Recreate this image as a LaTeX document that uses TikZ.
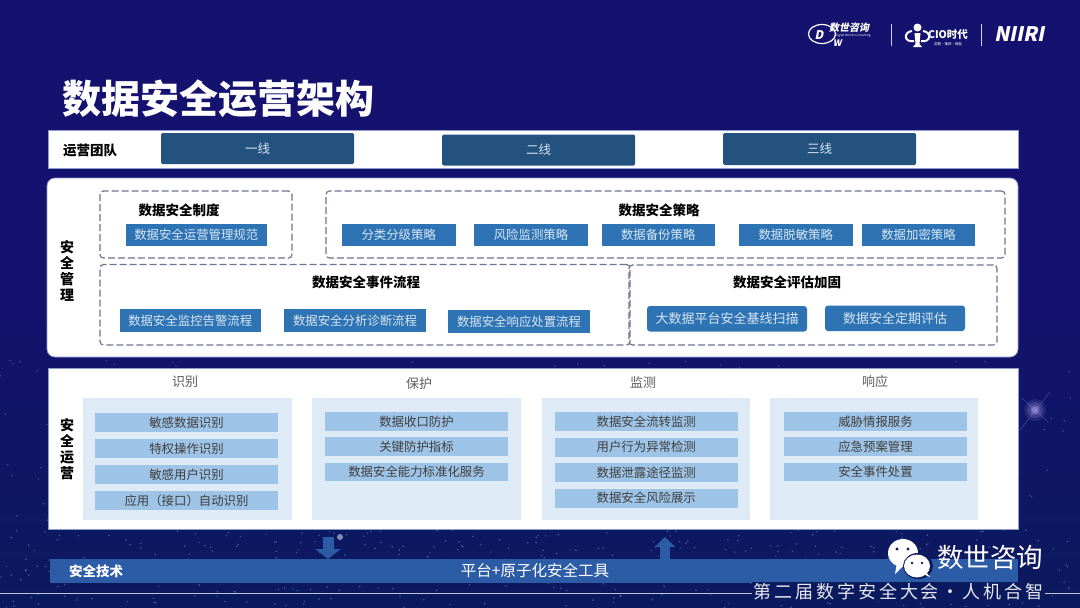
\documentclass[tikz,border=0pt]{standalone}
\usepackage{fontspec}
\setmainfont{Noto Sans CJK SC}
\usetikzlibrary{arrows.meta,calc}
\definecolor{bgtop}{HTML}{14126E}
\definecolor{bgbot}{HTML}{0B1A5E}
\definecolor{teamblue}{HTML}{23527F}
\definecolor{midblue}{HTML}{2E74B5}
\definecolor{palebg}{HTML}{DEEAF6}
\definecolor{rowblue}{HTML}{9DC3E6}
\definecolor{barblue}{HTML}{2C5CA6}
\definecolor{dashc}{HTML}{6F7392}
\definecolor{rowtext}{HTML}{404040}
\definecolor{softw}{HTML}{D8E6F3}
\definecolor{stardot}{HTML}{7FA0E0}
\definecolor{edgec}{HTML}{8C9CCB}
\definecolor{flare}{HTML}{B0A8F0}
\tikzset{
  panel/.style={fill=white,draw=edgec,line width=.7pt},
  teambox/.style={fill=teamblue,rounded corners=1.5pt,text=softw,font=\fontsize{12.5}{14}\selectfont},
  bluebox/.style={fill=midblue,text=softw,font=\fontsize{12.4}{15}\selectfont},
  bluebrd/.style={fill=midblue,text=softw,rounded corners=3pt,font=\fontsize{13}{15}\selectfont},
  dashbox/.style={draw=dashc,line width=1.2pt,dash pattern=on 7pt off 3pt,rounded corners=3.5pt},
  titletext/.style={font=\fontsize{13.5}{15}\selectfont\bfseries,text=black},
  sidetext/.style={font=\fontsize{14}{15}\selectfont\bfseries,text=black,align=center},
  headtext/.style={font=\fontsize{13}{15}\selectfont,text=rowtext!85},
  colbg/.style={fill=palebg},
  rowbox/.style={fill=rowblue,text=rowtext,font=\fontsize{12.4}{15}\selectfont},
  blockarrow/.style={draw=barblue,line width=11pt,shorten <=8pt,-{Triangle[length=10pt,width=25pt]}},
  wechat/.style={fill=white,draw=none},
  eye/.style={fill=bgbot,draw=none},
  whitet/.style={text=white},
}
\newcommand{\bx}[7]{%
  \pgfmathsetmacro{\bxw}{#5-#3}\pgfmathsetmacro{\bxh}{#6-#4}%
  \pgfmathsetmacro{\cxx}{(#3+#5)/2}\pgfmathsetmacro{\cyy}{(#4+#6)/2}%
  \node[#1,inner sep=0pt,outer sep=0pt,minimum width=\bxw pt,minimum height=\bxh pt] (#2) at (\cxx,\cyy) {#7};}
\begin{document}
\begin{tikzpicture}[x=1pt,y=-1pt]
\useasboundingbox (0,0) rectangle (1080,608);
\shade[top color=bgtop,bottom color=bgbot,middle color=bgtop] (0,0) rectangle (1080,608);
% starfield
\pgfmathsetseed{11}
\foreach \i in {1,...,260}{%
  \pgfmathsetmacro{\xx}{rnd*1080}\pgfmathsetmacro{\yy}{360+rnd*248}%
  \fill[stardot,opacity=.4] (\xx,\yy) circle (.8);}
\foreach \i in {1,...,320}{%
  \pgfmathsetmacro{\xx}{rnd*1080}\pgfmathsetmacro{\yy}{530+rnd*78}%
  \fill[stardot,opacity=.45] (\xx,\yy) circle (.9);}
\foreach \r/\o in {11/.12,8/.2,5/.3,3/.4}{\fill[flare,opacity=\o] (1035,410) circle (\r);}
\draw[flare,opacity=.35,line width=.5pt] (1020,430) -- (1050,392);
\draw[flare,opacity=.35,line width=.5pt] (1022,398) -- (1048,422);
\fill[white,opacity=.5] (340,537) circle (3);
% bottom line
\coordinate (lineL) at (0,593);
\coordinate (lineR) at (1080,593);
\draw[white,opacity=.75,line width=.8pt] (lineL) -- (lineR);
% logos
\node[whitet,font=\fontsize{10}{11}\selectfont\bfseries,xslant=.2,transform shape] (logoa) at (850,28) {数世咨询};
\draw[white,line width=1.2pt] (822,34) ellipse (13.5 and 9.5);
\node[whitet,font=\fontsize{12}{12}\selectfont\bfseries,xslant=.2,transform shape] (logod) at (820,35) {D};
\node[whitet,font=\fontsize{9}{9}\selectfont\bfseries,xslant=.2,transform shape] (logow) at (838,43) {W};
\node[whitet,font=\fontsize{3}{3}\selectfont] (logoe) at (853,36) {Digital Worlds Consulting};
\fill[white!80!bgtop] (890.5,24) rectangle (891.5,46);
\fill[white] (917.5,27.5) circle (4);
\fill[white] (914.5,33) -- (920.5,33) -- (919.5,44) -- (922,47) -- (913,47) -- (915.5,44) -- cycle;
\draw[white,line width=2pt] (912,31) .. controls (903,32) and (904,43) .. (914,41);
\draw[white,line width=2pt] (923,31) .. controls (932,32) and (931,43) .. (921,41);
\node[whitet,font=\fontsize{10.5}{11}\selectfont\bfseries] (logoc) at (948,35) {CIO时代};
\node[whitet,font=\fontsize{3.5}{4}\selectfont] (logoc2) at (948,44) {洞察·推荐·赋能};
\fill[white!80!bgtop] (980.5,24) rectangle (981.5,46);
\node[whitet,font=\fontsize{20}{20}\selectfont\bfseries,xslant=.2,transform shape,inner sep=0pt] (logon) at (1021,34) {NIIRI};
% title
\node[whitet,font=\fontsize{39}{40}\selectfont\bfseries,inner sep=0pt,anchor=west] (title) at (62,99) {数据安全运营架构};
% team
\bx{panel}{team}{48}{130}{1018}{168.5}{}
\node[titletext] (teamlabel) at (90,150) {运营团队};
\bx{teambox}{lineone}{161}{133}{354}{164}{一线}
\bx{teambox}{linetwo}{442}{134.5}{635}{165.5}{二线}
\bx{teambox}{linethree}{723}{133}{916}{165}{三线}
% management
\bx{panel,rounded corners=8pt}{mgmt}{47}{178}{1018}{357}{}
\node[sidetext] (mgmtlabel) at (67,271) {安\\[1.2pt]全\\[1.2pt]管\\[1.2pt]理};
\bx{dashbox}{dzhidu}{100}{191}{292}{258}{}
\bx{dashbox}{dcelue}{326}{191}{1005}{258}{}
\bx{dashbox}{dshijian}{100}{264.5}{630}{345}{}
\bx{dashbox}{dpinggu}{629}{265}{997}{345}{}
\node[titletext] (tzhidu) at (179,210) {数据安全制度};
\node[titletext] (tcelue) at (659,210) {数据安全策略};
\node[titletext] (tshijian) at (366,282) {数据安全事件流程};
\node[titletext] (tpinggu) at (787,282) {数据安全评估加固};
\bx{bluebox}{guifan}{125.5}{224}{267}{245.6}{数据安全运营管理规范}
\bx{bluebox}{fenlei}{341.7}{224}{455.7}{245.6}{分类分级策略}
\bx{bluebox}{fengxian}{474.3}{224}{587.7}{245.6}{风险监测策略}
\bx{bluebox}{beifen}{601.7}{224}{714.7}{245.6}{数据备份策略}
\bx{bluebox}{tuomin}{739}{224}{852.5}{245.6}{数据脱敏策略}
\bx{bluebox}{jiami}{862}{224}{975}{245.6}{数据加密策略}
\bx{bluebox}{jiankong}{119.5}{309}{261}{332}{数据安全监控告警流程}
\bx{bluebox}{fenxi}{284}{309}{426}{332}{数据安全分析诊断流程}
\bx{bluebox}{xiangying}{448}{310}{590}{333}{数据安全响应处置流程}
\bx{bluebrd}{dashuju}{647}{306}{807}{331.5}{大数据平台安全基线扫描}
\bx{bluebrd}{dingqi}{825}{305.5}{965}{331}{数据安全定期评估}
% operations
\bx{panel}{ops}{48}{368}{1018}{529}{}
\node[sidetext] (opslabel) at (67,449) {安\\[1.2pt]全\\[1.2pt]运\\[1.2pt]营};
\node[headtext] (hshibie) at (185,382) {识别};
\node[headtext] (hbaohu) at (419,384) {保护};
\node[headtext] (hjiance) at (643,383) {监测};
\node[headtext] (hxiang) at (875,382) {响应};
\bx{colbg}{cola}{83}{398}{292}{520}{}
\bx{colbg}{colb}{312}{398}{521}{520}{}
\bx{colbg}{colc}{541.7}{398}{750}{520}{}
\bx{colbg}{cold}{769.5}{398}{978}{520}{}
\bx{rowbox}{aa}{95}{413.3}{278}{432}{敏感数据识别}
\bx{rowbox}{ab}{95}{439}{278}{457.7}{特权操作识别}
\bx{rowbox}{ac}{95}{465}{278}{484}{敏感用户识别}
\bx{rowbox}{ad}{95}{491}{278}{510}{应用（接口）自动识别}
\bx{rowbox}{ba}{325}{412}{508}{431}{数据收口防护}
\bx{rowbox}{bb}{325}{437}{508}{456}{关键防护指标}
\bx{rowbox}{bc}{325}{463}{508}{481}{数据安全能力标准化服务}
\bx{rowbox}{ca}{555}{412}{737.5}{431}{数据安全流转监测}
\bx{rowbox}{cb}{555}{438}{737.5}{456.5}{用户行为异常检测}
\bx{rowbox}{cc}{555}{463}{737.5}{482}{数据泄露途径监测}
\bx{rowbox}{cd}{555}{488.5}{737.5}{507.5}{数据安全风险展示}
\bx{rowbox}{da}{784}{412}{967}{431}{威胁情报服务}
\bx{rowbox}{db}{784}{437}{967}{456}{应急预案管理}
\bx{rowbox}{dc}{784}{463}{967}{481}{安全事件处置}
% technology bar
\bx{fill=barblue}{tech}{50}{559}{1018}{583}{}
\node[whitet,font=\fontsize{13.5}{15}\selectfont\bfseries] (techlabel) at (96,571) {安全技术};
\node[whitet,font=\fontsize{15.5}{16}\selectfont] (techtext) at (535,571) {平台+原子化安全工具};
\coordinate (downx) at (328,545);
\coordinate (upx) at (665,545);
\draw[blockarrow] (ops.south -| downx) -- (tech.north -| downx);
\draw[draw=barblue,line width=10pt,-{Triangle[length=10pt,width=20pt]}] (tech.north -| upx) -- ($(ops.south -| upx)+(0,8)$);
% watermark
\fill[wechat] (903,553) ellipse (15 and 14);
\fill[wechat] (905,564) -- (895,574) -- (897,562) -- cycle;
\fill[bgbot] (918,566) ellipse (15 and 13);
\fill[wechat] (917,566) ellipse (13 and 11.5);
\fill[wechat] (926,572) -- (930,577) -- (923,574) -- cycle;
\fill[eye] (897,549) circle (1.6);
\fill[eye] (908,549) circle (1.6);
\fill[eye] (912,563) circle (1.4);
\fill[eye] (922,563) circle (1.4);
\node[whitet,font=\fontsize{26.5}{28}\selectfont,inner sep=0pt,anchor=west] (wm) at (937,558) {数世咨询};
\node[fill=bgbot,text=white!90!bgbot,font=\fontsize{18}{20}\selectfont,inner sep=1.5pt,anchor=east] (footer) at (1045,592) {\addfontfeatures{LetterSpace=16}第二届数字安全大会·人机合智};
\end{tikzpicture}
\end{document}
